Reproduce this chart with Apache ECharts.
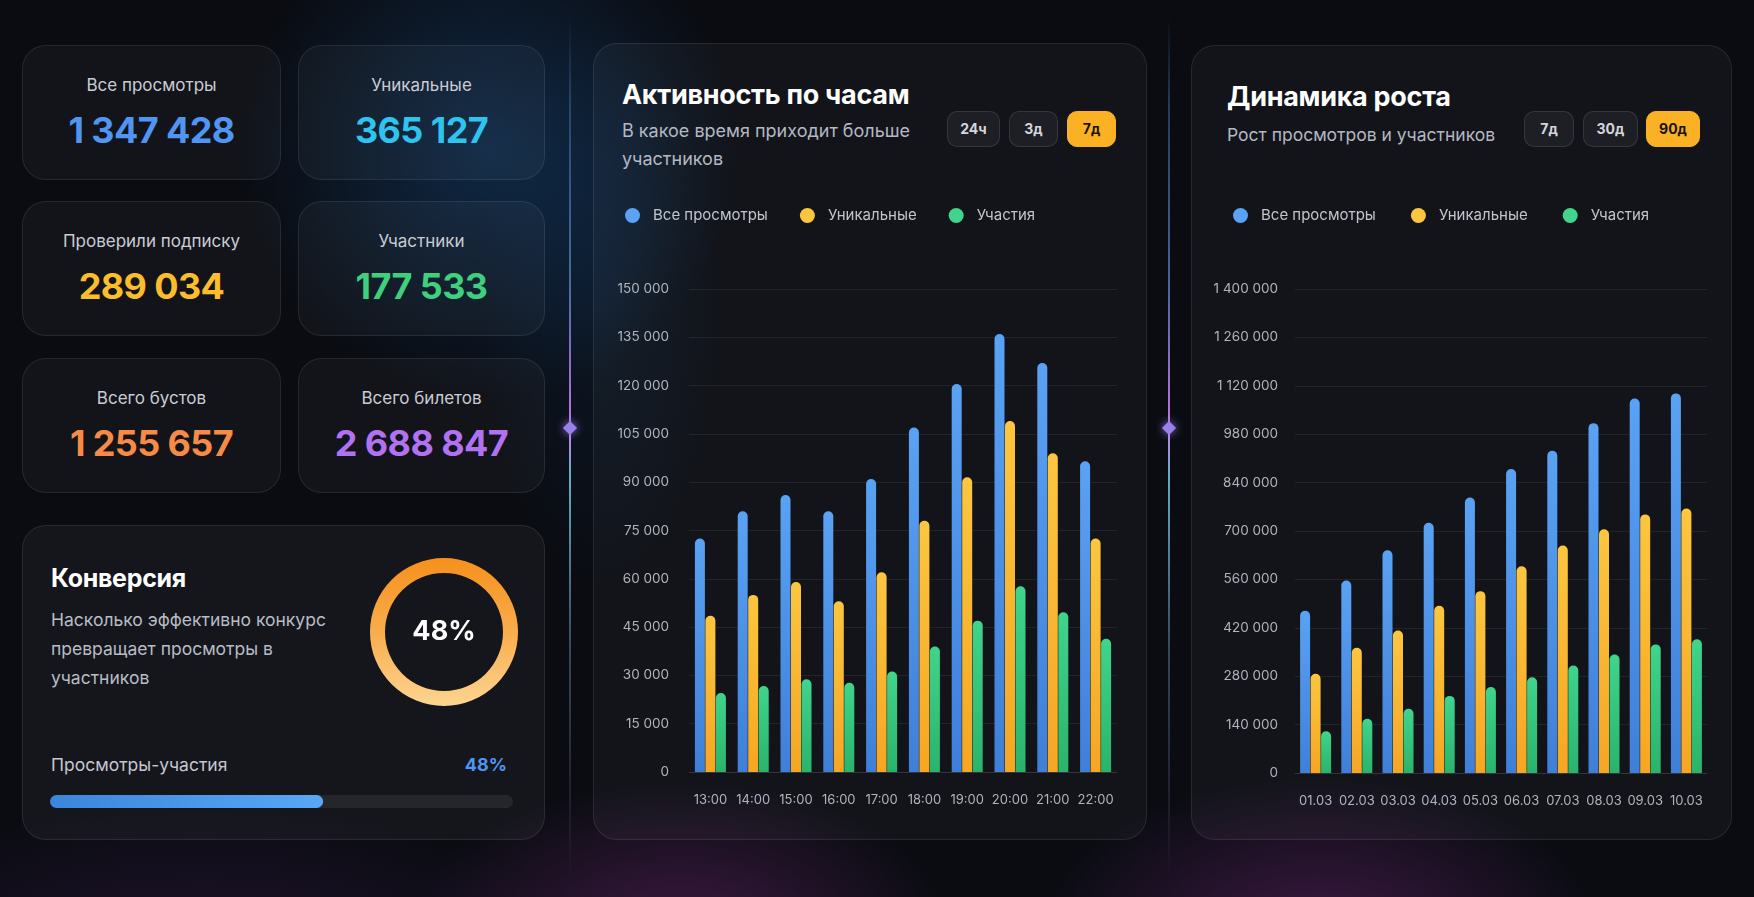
<!DOCTYPE html>
<html lang="ru">
<head>
<meta charset="utf-8">
<script src="https://cdn.jsdelivr.net/npm/echarts@6/dist/echarts.min.js"></script>
<style>
html, body { margin: 0; padding: 0; }
body {
    width: 1754px; height: 897px; position: relative; overflow: hidden;
    font-family: Inter, "Noto Sans", sans-serif;
    background:
        radial-gradient(ellipse 330px 330px at 490px 150px, rgba(22, 80, 140, 0.42), transparent 75%),
        radial-gradient(ellipse 160px 380px at 600px 300px, rgba(22, 70, 120, 0.18), transparent 75%),
        radial-gradient(ellipse 360px 200px at 680px 930px, rgba(120, 40, 120, 0.45), transparent 75%),
        radial-gradient(ellipse 380px 220px at 1320px 940px, rgba(125, 40, 130, 0.45), transparent 75%),
        radial-gradient(ellipse 500px 200px at 200px 950px, rgba(70, 30, 90, 0.35), transparent 75%),
        #0a0c12;
}
.card {
    position: absolute; box-sizing: border-box; border-radius: 24px;
    background: rgba(255, 255, 255, 0.035);
    border: 1px solid rgba(255, 255, 255, 0.085);
}
.stat .lbl { position: absolute; left: 0; right: 0; top: 28px; text-align: center; color: #c9ccd4; font-size: 17px; line-height: 22px; }
.stat .val { position: absolute; left: 0; right: 0; top: 62px; text-align: center; font-size: 36px; line-height: 44px; font-weight: 700; letter-spacing: -0.6px; }
.title { position: absolute; color: #fff; font-weight: 700; font-size: 27px; line-height: 32px; letter-spacing: -0.3px; }
.sub { position: absolute; color: #b4b8c2; font-size: 18px; line-height: 28px; }
.btn {
    position: absolute; top: 67px; height: 36px; box-sizing: border-box; border-radius: 10px;
    background: rgba(255, 255, 255, 0.05); border: 1px solid rgba(255, 255, 255, 0.1);
    color: #d4d6dc; font-weight: 700; font-size: 14px; line-height: 34px; text-align: center;
}
.btn.on { background: #fbb124; border-color: #fbb124; color: #1a1408; }
.divider { position: absolute; top: 0; width: 2px; height: 897px;
    background: linear-gradient(to bottom,
        rgba(60,100,150,0) 2%, rgba(60,100,150,0.55) 12%, rgba(100,140,210,0.7) 32%,
        rgba(190,120,230,0.95) 46%, rgba(200,130,235,1) 48%, rgba(110,190,220,0.9) 53%,
        rgba(110,150,180,0.45) 72%, rgba(100,100,140,0.2) 90%, rgba(100,100,140,0) 98%); }
.diamond { position: absolute; width: 10px; height: 10px; transform: rotate(45deg); background: #9a80ea; box-shadow: 0 0 8px rgba(160,120,240,0.9); }
</style>
</head>
<body>

<div class="divider" style="left:569px"></div>
<div class="diamond" style="left:565px;top:423px"></div>
<div class="divider" style="left:1168px"></div>
<div class="diamond" style="left:1164px;top:423px"></div>

<div class="card stat" style="left:22px;top:45px;width:259px;height:135px">
    <div class="lbl">Все просмотры</div><div class="val" style="color:#4f95f1">1 347 428</div></div>
<div class="card stat" style="left:298px;top:45px;width:247px;height:135px">
    <div class="lbl">Уникальные</div><div class="val" style="color:#2ec4ef">365 127</div></div>
<div class="card stat" style="left:22px;top:201px;width:259px;height:135px">
    <div class="lbl">Проверили подписку</div><div class="val" style="color:#fbbd2c">289 034</div></div>
<div class="card stat" style="left:298px;top:201px;width:247px;height:135px">
    <div class="lbl">Участники</div><div class="val" style="color:#3fcf7d">177 533</div></div>
<div class="card stat" style="left:22px;top:358px;width:259px;height:135px">
    <div class="lbl">Всего бустов</div><div class="val" style="color:#f58b47">1 255 657</div></div>
<div class="card stat" style="left:298px;top:358px;width:247px;height:135px">
    <div class="lbl">Всего билетов</div><div class="val" style="color:#b172f1">2 688 847</div></div>

<div class="card" style="left:22px;top:525px;width:523px;height:315px;background:rgba(255,255,255,0.045)">
    <div class="title" style="left:28px;top:36px;font-size:25px">Конверсия</div>
    <div class="sub" style="left:28px;top:79px;line-height:29px;font-size:17.5px;color:#b8bcc5">Насколько эффективно конкурс<br>превращает просмотры в<br>участников</div>
    <div class="sub" style="left:28px;top:225px;font-size:17.5px;color:#c4c7cf">Просмотры-участия</div>
    <div style="position:absolute;right:37px;top:225px;line-height:28px;font-size:18px;font-weight:700;color:#4f95f1">48%</div>
</div>
<div id="donut" style="position:absolute;left:354px;top:542px;width:180px;height:180px"></div>
<div id="progress" style="position:absolute;left:50px;top:791px;width:463px;height:21px"></div>

<div class="card" style="left:593px;top:43px;width:554px;height:797px">
    <div class="title" style="left:28px;top:35px">Активность по часам</div>
    <div class="sub" style="left:28px;top:73px">В какое время приходит больше<br>участников</div>
    <div class="btn" style="left:353px;width:53px">24ч</div>
    <div class="btn" style="left:415px;width:49px">3д</div>
    <div class="btn on" style="left:473px;width:49px">7д</div>
</div>
<div id="hours" style="position:absolute;left:593px;top:43px;width:554px;height:797px"></div>

<div class="card" style="left:1191px;top:45px;width:541px;height:795px">
    <div class="title" style="left:35px;top:35px">Динамика роста</div>
    <div class="sub" style="left:35px;top:75px;font-size:17.5px">Рост просмотров и участников</div>
    <div class="btn" style="left:332px;width:50px;top:65px">7д</div>
    <div class="btn" style="left:391px;width:55px;top:65px">30д</div>
    <div class="btn on" style="left:454px;width:54px;top:65px">90д</div>
</div>
<div id="days" style="position:absolute;left:1191px;top:45px;width:541px;height:795px"></div>

<script>
var seriesNames = ['Все просмотры', 'Уникальные', 'Участия'];

var hours = ['13:00', '14:00', '15:00', '16:00', '17:00', '18:00', '19:00', '20:00', '21:00', '22:00'];
var hourViews = [72500, 81000, 86000, 81000, 91000, 107000, 120500, 136000, 127000, 96500];
var hourUnique = [48500, 55000, 59000, 53000, 62000, 78000, 91500, 109000, 99000, 72500];
var hourJoins = [24500, 26700, 28800, 27700, 31200, 39000, 47000, 57700, 49600, 41400];
var hourAxis = {max: 150000, interval: 15000};

var days = ['01.03', '02.03', '03.03', '04.03', '05.03', '06.03', '07.03', '08.03', '09.03', '10.03'];
var dayViews = [469000, 557000, 644000, 724000, 797000, 879000, 932000, 1012000, 1083000, 1098000];
var dayUnique = [287000, 362000, 412000, 484000, 526000, 598000, 658000, 705000, 748000, 765000];
var dayJoins = [121000, 157000, 186000, 223000, 249000, 277000, 311000, 343000, 372000, 387000];
var dayAxis = {max: 1400000, interval: 140000};

var conversion = 48;      // процент в кольце
var progressFill = 59;    // заполнение полосы, как на картинке

var colors = [
    ['#5aa2f4', '#3f7fd8'],
    ['#fcc640', '#f6a623'],
    ['#40d48c', '#2bb36c']
];

function fmt(v) {
    return String(v).replace(/\B(?=(\d{3})+(?!\d))/g, ' ');
}

function grad(c) {
    return new echarts.graphic.LinearGradient(0, 0, 0, 1, [
        {offset: 0, color: c[0]}, {offset: 1, color: c[1]}
    ]);
}

function barChart(id, cats, data, axis, grid, legendPos, gap, yMargin) {
    var chart = echarts.init(document.getElementById(id));
    var series = [];
    for (var i = 0; i < data.length; i++) {
        series.push({
            name: seriesNames[i],
            type: 'bar',
            data: data[i],
            barWidth: 10,
            barGap: '5%',
            itemStyle: {color: grad(colors[i]), borderRadius: [5, 5, 0, 0]}
        });
    }
    chart.setOption({
        animation: false,
        textStyle: {fontFamily: 'Inter'},
        legend: {
            left: legendPos[0], top: legendPos[1],
            icon: 'circle', itemWidth: 15, itemHeight: 15, itemGap: gap,
            textStyle: {color: '#c2c5cd', fontSize: 15, padding: [0, 0, 0, 8]},
            data: seriesNames.map(function (n, i) {
                return {name: n, itemStyle: {color: colors[i][0]}};
            })
        },
        grid: grid,
        xAxis: {
            type: 'category',
            data: cats,
            axisTick: {show: false},
            axisLine: {lineStyle: {color: 'rgba(255,255,255,0.08)'}},
            axisLabel: {color: '#b0b4be', fontSize: 13, margin: 22, interval: 0}
        },
        yAxis: {
            type: 'value',
            min: 0, max: axis.max, interval: axis.interval,
            axisLabel: {color: '#b0b4be', fontSize: 13.5, margin: yMargin, formatter: fmt},
            splitLine: {lineStyle: {color: 'rgba(255,255,255,0.07)'}}
        },
        series: series
    });
}

barChart('hours', hours, [hourViews, hourUnique, hourJoins], hourAxis,
    {left: 96, right: 30, top: 246, bottom: 68}, [27, 160], 32, 20);
barChart('days', days, [dayViews, dayUnique, dayJoins], dayAxis,
    {left: 104, right: 25, top: 244, bottom: 67}, [37, 158], 35, 17);

// кольцо конверсии
var donut = echarts.init(document.getElementById('donut'));
donut.setOption({
    animation: false,
    series: [{
        type: 'pie',
        radius: [59, 74],
        center: ['50%', '50%'],
        silent: true,
        label: {
            show: true, position: 'center', formatter: '{c}%',
            color: '#ffffff', fontSize: 27, fontWeight: 'bold', fontFamily: 'Inter'
        },
        labelLine: {show: false},
        itemStyle: {
            color: new echarts.graphic.LinearGradient(0, 0, 0, 1, [
                {offset: 0, color: '#f6901c'},
                {offset: 0.5, color: '#f8ad4c'},
                {offset: 1, color: '#fdd591'}
            ])
        },
        data: [{value: conversion, name: 'Конверсия'}]
    }]
});

// полоса прогресса
var progress = echarts.init(document.getElementById('progress'));
progress.setOption({
    animation: false,
    grid: {left: 0, right: 0, top: 4, bottom: 4},
    xAxis: {type: 'value', min: 0, max: 100, show: false},
    yAxis: {type: 'category', data: ['p'], show: false},
    series: [{
        type: 'bar',
        data: [progressFill],
        barWidth: 13,
        showBackground: true,
        backgroundStyle: {color: 'rgba(255,255,255,0.07)', borderRadius: 7},
        itemStyle: {
            borderRadius: 7,
            color: new echarts.graphic.LinearGradient(0, 0, 1, 0, [
                {offset: 0, color: '#3b86dc'}, {offset: 1, color: '#58a8f6'}
            ])
        }
    }]
});
</script>
</body>
</html>
